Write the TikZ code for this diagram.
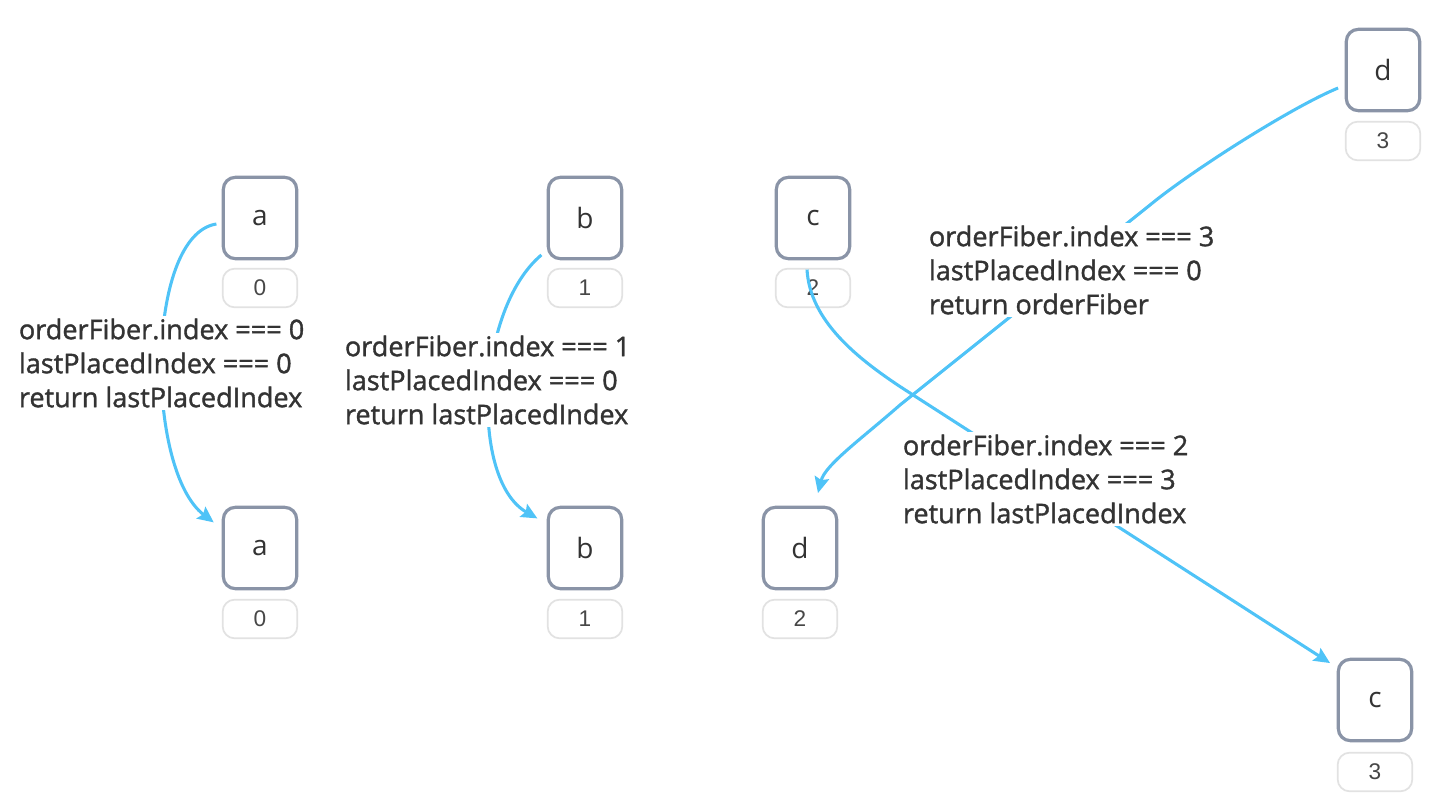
\documentclass[tikz,border=0pt]{standalone}
\usepackage{fontspec}
\setmainfont{Open Sans}
\newfontfamily\lblfont{Open Sans}[FakeBold=1.3]
\newfontfamily\numfont{Liberation Sans}
\usetikzlibrary{arrows.meta}
\definecolor{boxc}{HTML}{8A94A7}
\definecolor{idxc}{HTML}{E2E2E2}
\definecolor{arrc}{HTML}{4FC3F7}
\definecolor{txtc}{HTML}{333333}
\tikzset{
  fiber/.style={draw=boxc, line width=2.4pt, rounded corners=9pt, fill=white,
    minimum width=55pt, minimum height=61pt, inner sep=0pt, text=txtc,
    font=\fontsize{21}{24}\selectfont},
  idx/.style={draw=idxc, line width=1.3pt, rounded corners=9pt, fill=white,
    minimum width=56pt, minimum height=29pt, inner sep=0pt, text=txtc!90,
    font=\numfont\fontsize{17}{20}\selectfont},
  lbl/.style={fill=white, inner sep=2pt, anchor=west, align=left, text=txtc,
    font=\lblfont\fontsize{20.3}{25.5}\selectfont},
  flow/.style={draw=arrc, line width=2.3pt, -{Stealth[length=12pt,width=11pt,inset=2pt]}}
}
\begin{document}
\begin{tikzpicture}[x=0.75pt,y=-0.75pt]
\useasboundingbox (0,0) rectangle (1450,812);
% top row
\node[fiber] (ta) at (260,218) {a};
\node[idx]   (ia) at (260,288) {0};
\node[fiber] (tb) at (585,218) {b};
\node[idx]   (ib) at (585,288) {1};
\node[fiber] (tc) at (813,218) {c};
\node[idx]   (ic) at (813,288) {2};
\node[fiber] (td) at (1383,70) {d};
\node[idx]   (id) at (1383,141) {3};
% bottom row
\node[fiber] (ba) at (260,548) {a};
\node[idx]   (ja) at (260,619) {0};
\node[fiber] (bb) at (585,548) {b};
\node[idx]   (jb) at (585,619) {1};
\node[fiber] (bd) at (800,548) {d};
\node[idx]   (jd) at (800,619) {2};
\node[fiber] (bc) at (1375,700) {c};
\node[idx]   (jc) at (1375,772) {3};
% connectors
\draw[flow] ([xshift=-4pt,yshift=-4.5pt]ta.west) .. controls (145,235) and (145,470) .. ([xshift=-6pt,yshift=-12.5pt]ba.north west);
\draw[flow] ([xshift=-4pt,yshift=4pt]tb.south west) .. controls (476,310) and (470,480) .. ([xshift=-7pt,yshift=-9.5pt]bb.north west);
\draw[flow] ([xshift=-4.5pt,yshift=-7pt]tc.south) .. controls (810,320) and (855,358) .. (910,393) -- ([xshift=-5pt,yshift=-4pt]bc.north west);
\draw[flow] ([xshift=-5pt,yshift=-13.5pt]td.west) .. controls (1290,108) and (1190,172) .. (1150,205) -- (900,405) .. controls (860,440) and (825,465) .. ([xshift=13.5pt,yshift=9.5pt]bd.north);
% labels
\node[lbl] (l1) at (16,363) {orderFiber.index === 0\\lastPlacedIndex === 0\\return lastPlacedIndex};
\node[lbl] (l2) at (342,380) {orderFiber.index === 1\\lastPlacedIndex === 0\\return lastPlacedIndex};
\node[lbl] (l3) at (926,270) {orderFiber.index === 3\\lastPlacedIndex === 0\\return orderFiber};
\node[lbl] (l4) at (900,479) {orderFiber.index === 2\\lastPlacedIndex === 3\\return lastPlacedIndex};
\end{tikzpicture}
\end{document}
